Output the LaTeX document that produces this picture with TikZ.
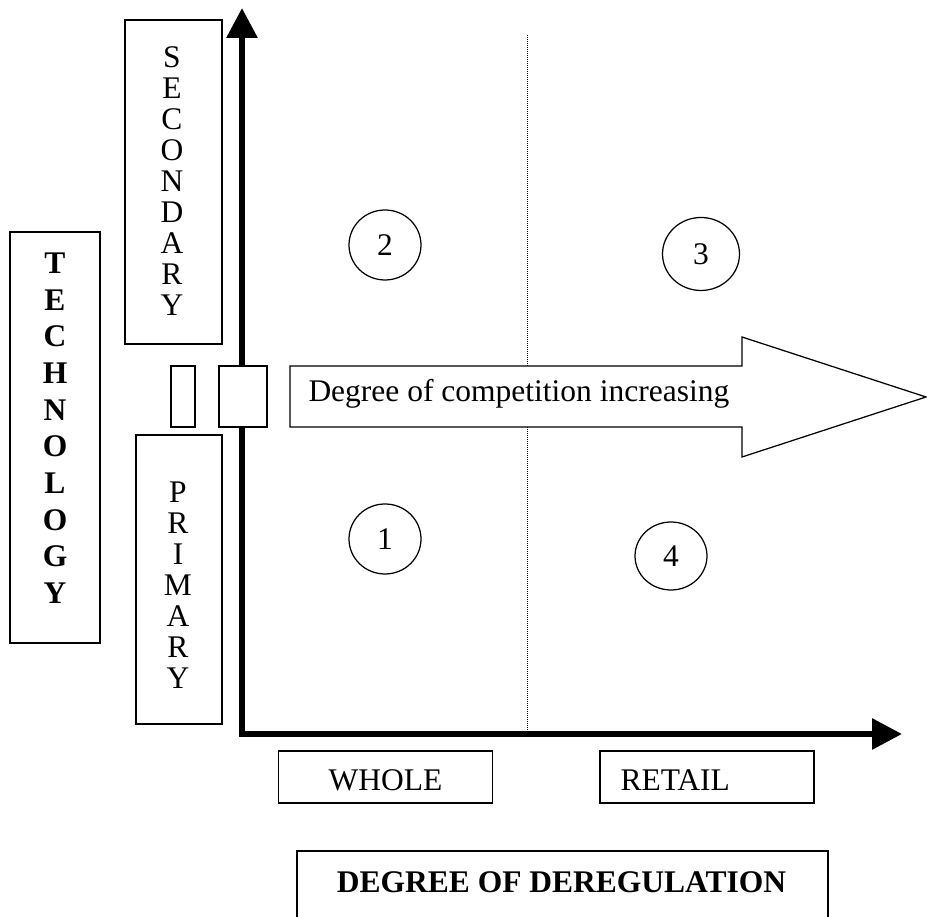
\documentclass[tikz,border=0pt]{standalone}
\usepackage{fontspec}
\setmainfont{Liberation Serif}
\usetikzlibrary{arrows.meta,shapes.geometric}
\begin{document}
\begin{tikzpicture}[x=0.4pt,y=-0.4pt,
  every node/.style={font=\fontsize{12.6}{14}\selectfont, inner sep=0pt},
  thinbox/.style={draw, line width=0.45pt, fill=white, inner sep=0pt},
  thickbox/.style={draw, line width=0.9pt, fill=white, inner sep=0pt},
  letter/.style={font=\fontsize{12.6}{14}\selectfont},
  bletter/.style={font=\fontsize{12.6}{14}\selectfont\bfseries},
  num/.style={draw, ellipse, line width=0.5pt, fill=white, inner sep=0pt},
  axis/.style={line width=2.4pt, {Triangle[length=12pt,width=12pt]}-{Triangle[length=12pt,width=12pt]}},
  divider/.style={line width=0.4pt, dash pattern=on 0.4pt off 0.4pt},
  bigarrow/.style={draw, line width=0.5pt, fill=white}
]
\useasboundingbox (0,0) rectangle (927,917);

% axes
\coordinate (O) at (242,734);
\coordinate (ytop) at (242,8);
\coordinate (xend) at (902,734);
\draw[axis] (ytop) -- (O) -- (xend);

% dotted divider
\coordinate (dtop) at (527,35);
\coordinate (dbot) at (527,734);
\draw[divider] (dtop) -- (dbot);

% secondary box
\node[thinbox, minimum width=97*0.4pt, minimum height=324*0.4pt] (sec) at (173.5,182) {};
\foreach \l [count=\i from 0] in {S,E,C,O,N,D,A,R,Y}
  \node[letter] (sec\i) at (172,57+31*\i) {\l};

% primary box
\node[thinbox, minimum width=86*0.4pt, minimum height=289*0.4pt] (pri) at (179,579.5) {};
\foreach \l [count=\i from 0] in {P,R,I,M,A,R,Y}
  \node[letter] (pri\i) at (178,492+31*\i) {\l};

% technology box
\node[thickbox, minimum width=90*0.4pt, minimum height=411*0.4pt] (tech) at (55,437.5) {};
\foreach \l [count=\i from 0] in {T,E,C,H,N,O,L,O,G,Y}
  \node[bletter] (tech\i) at (55,263+36.7*\i) {\l};

% small boxes
\node[thinbox, minimum width=24*0.4pt, minimum height=61*0.4pt] (nbox) at (183,396.5) {};
\node[draw, line width=0.8pt, fill=white, minimum width=48*0.4pt, minimum height=61*0.4pt] (sqbox) at (243,396.5) {};

% big arrow
\draw[bigarrow] (290,366) -- (742,366) -- (742,337) -- (926,397) -- (742,457) -- (742,427) -- (290,427) -- cycle;
\node[anchor=base west] (comp) at (308,402) {Degree of competition increasing};

% numbered circles
\node[num, minimum width=72*0.4pt, minimum height=70*0.4pt] (c2) at (385,245) {2};
\node[num, minimum width=77*0.4pt, minimum height=73*0.4pt] (c3) at (701,254) {3};
\node[num, minimum width=72*0.4pt, minimum height=70*0.4pt] (c1) at (385,539) {1};
\node[num, minimum width=72*0.4pt, minimum height=68*0.4pt] (c4) at (671,556) {4};

% whole / retail
\node[thinbox, line width=0.55pt, minimum width=214*0.4pt, minimum height=52*0.4pt] (whole) at (385.5,777) {};
\node (wholetxt) at (385.5,780) {WHOLE};
\node[thinbox, line width=0.55pt, minimum width=214*0.4pt, minimum height=52*0.4pt] (retail) at (707,777) {};
\node[anchor=west] (retailtxt) at (620,780) {RETAIL};

% degree of deregulation
\node[draw, line width=0.8pt, anchor=north west, minimum width=531*0.4pt, minimum height=75*0.4pt] (dereg) at (296,850) {};
\node[bletter] (deregtxt) at (561.5,882) {DEGREE OF DEREGULATION};
\end{tikzpicture}
\end{document}
